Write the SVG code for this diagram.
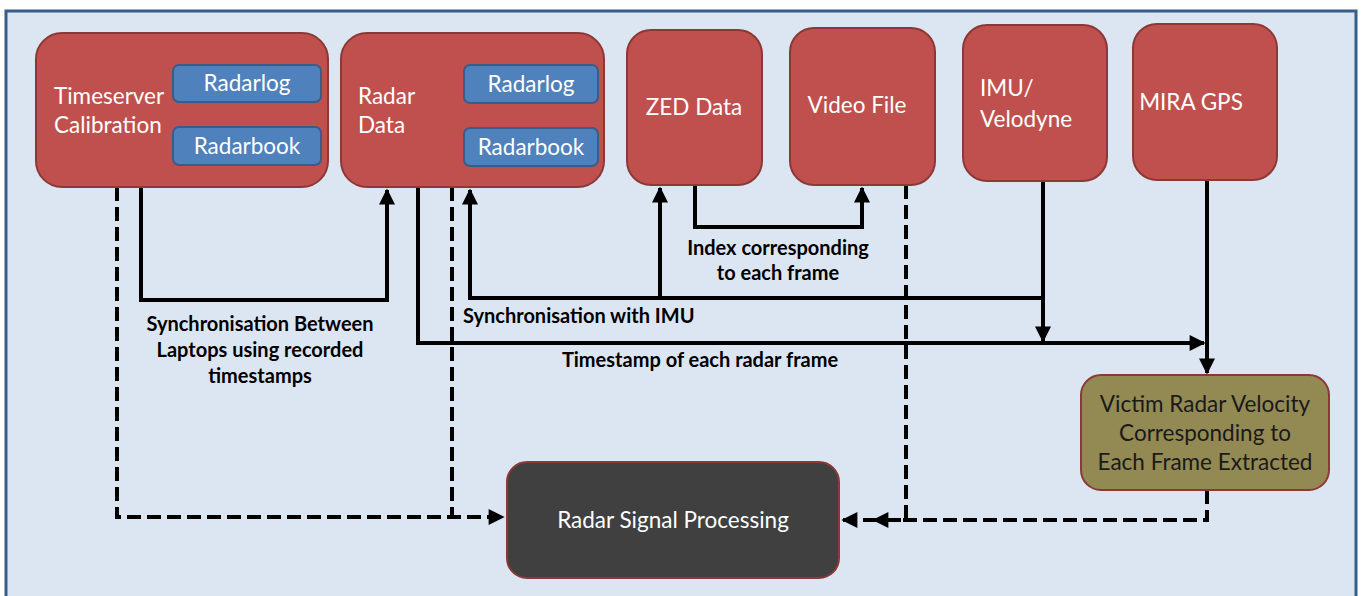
<svg xmlns="http://www.w3.org/2000/svg" width="1362" height="596" viewBox="0 0 1362 596">
  <defs>
    <marker id="ah" viewBox="0 0 10 10" refX="9" refY="5" markerWidth="4.5" markerHeight="4" orient="auto" markerUnits="strokeWidth">
      <path d="M0,0 L10,5 L0,10 z" fill="#000"/>
    </marker>
  </defs>
  <style>
    .src { fill: #c0504d; stroke: #8c3836; stroke-width: 2; }
    .sub { fill: #4f81bd; stroke: #385d8a; stroke-width: 2; }
    .lbl { font-family: Lato, "Open Sans", sans-serif; font-size: 22.5px; fill: #fff; }
    .dark { fill: #1a1a1a; }
    .note { font-family: Lato, "Open Sans", sans-serif; font-size: 20px; font-weight: bold; fill: #000; }
    .c { text-anchor: middle; }
    .solid { fill: none; stroke: #000; stroke-width: 4; }
    .dash { fill: none; stroke: #000; stroke-width: 4; stroke-dasharray: 14 6; }
  </style>

  <!-- frame -->
  <rect x="6" y="11" width="1350" height="600" fill="#dce6f2" stroke="#385d8a" stroke-width="3"/>

  <g id="connectors">
    <!-- timeserver to radar data -->
    <path class="solid" d="M141,187 V300 H387 V190" marker-end="url(#ah)"/>
    <!-- radar frame timestamps to velocity extraction -->
    <path class="solid" d="M418,187 V343 H1204" marker-end="url(#ah)"/>
    <!-- IMU sync -->
    <path class="solid" d="M1043,181 V341" marker-end="url(#ah)"/>
    <path class="solid" d="M1045,298 H470 V190" marker-end="url(#ah)"/>
    <path class="solid" d="M660,298 V188" marker-end="url(#ah)"/>
    <!-- ZED to video -->
    <path class="solid" d="M695,185 V227 H862 V188" marker-end="url(#ah)"/>
    <!-- GPS to velocity -->
    <path class="solid" d="M1207,180 V373" marker-end="url(#ah)"/>
    <!-- dashed feeds into signal processing -->
    <path class="dash" d="M117,187 V517 H503" marker-end="url(#ah)"/>
    <path class="dash" d="M452,187 V517"/>
    <path class="dash" d="M906,185 V520 H874" marker-end="url(#ah)"/>
    <path class="dash" d="M1207,490 V520 H843" marker-end="url(#ah)"/>
  </g>

  <g id="timeserver">
    <rect class="src" x="36" y="33" width="292" height="154" rx="26"/>
    <text class="lbl" x="54" y="104">Timeserver</text>
    <text class="lbl" x="54" y="133">Calibration</text>
    <g id="ts-radarlog">
      <rect class="sub" x="173" y="65" width="148" height="37" rx="6"/>
      <text class="lbl c" x="247" y="91">Radarlog</text>
    </g>
    <g id="ts-radarbook">
      <rect class="sub" x="173" y="127" width="148" height="38" rx="6"/>
      <text class="lbl c" x="247" y="154">Radarbook</text>
    </g>
  </g>

  <g id="radar-data">
    <rect class="src" x="341" y="33" width="263" height="154" rx="26"/>
    <text class="lbl" x="358" y="104">Radar</text>
    <text class="lbl" x="358" y="133">Data</text>
    <g id="rd-radarlog">
      <rect class="sub" x="464" y="65" width="134" height="38" rx="6"/>
      <text class="lbl c" x="531" y="92">Radarlog</text>
    </g>
    <g id="rd-radarbook">
      <rect class="sub" x="464" y="128" width="134" height="38" rx="6"/>
      <text class="lbl c" x="531" y="155">Radarbook</text>
    </g>
  </g>

  <g id="zed">
    <rect class="src" x="627" y="30" width="135" height="155" rx="24"/>
    <text class="lbl c" x="694" y="115">ZED Data</text>
  </g>

  <g id="video">
    <rect class="src" x="790" y="28" width="145" height="157" rx="24"/>
    <text class="lbl c" x="857" y="113">Video File</text>
  </g>

  <g id="imu">
    <rect class="src" x="963" y="25" width="144" height="156" rx="24"/>
    <text class="lbl" x="980" y="96">IMU/</text>
    <text class="lbl" x="980" y="127">Velodyne</text>
  </g>

  <g id="gps">
    <rect class="src" x="1133" y="24" width="144" height="156" rx="24"/>
    <text class="lbl c" x="1191" y="110">MIRA GPS</text>
  </g>

  <g id="velocity">
    <rect x="1081" y="375" width="248" height="115" rx="20" fill="#938953" stroke="#8c3836" stroke-width="2"/>
    <text class="lbl dark c" x="1205" y="412">Victim Radar Velocity</text>
    <text class="lbl dark c" x="1205" y="441">Corresponding to</text>
    <text class="lbl dark c" x="1205" y="470">Each Frame Extracted</text>
  </g>

  <g id="processing">
    <rect x="507" y="462" width="332" height="116" rx="20" fill="#404040" stroke="#8c3836" stroke-width="2"/>
    <text class="lbl c" x="673" y="528">Radar Signal Processing</text>
  </g>

  <g id="labels">
    <text class="note c" x="260" y="331">Synchronisation Between</text>
    <text class="note c" x="260" y="357">Laptops using recorded</text>
    <text class="note c" x="260" y="383">timestamps</text>
    <text class="note" x="463" y="323">Synchronisation with IMU</text>
    <text class="note c" x="700" y="367">Timestamp of each radar frame</text>
    <text class="note c" x="778" y="255">Index corresponding</text>
    <text class="note c" x="778" y="280">to each frame</text>
  </g>
</svg>
